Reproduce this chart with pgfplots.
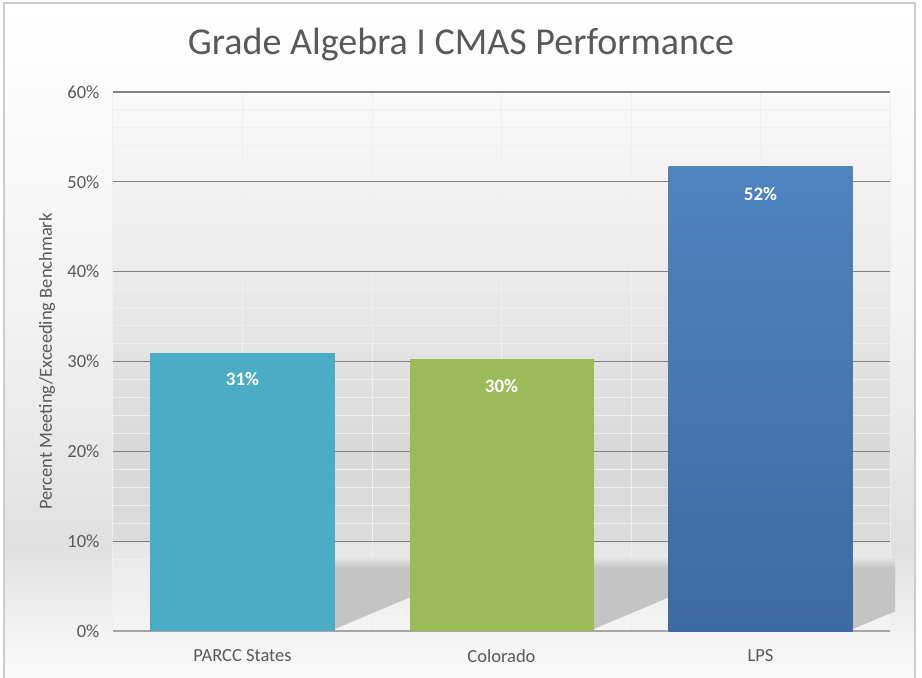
\documentclass[border=0pt]{standalone}
\usepackage{pgfplots}
\pgfplotsset{compat=1.18}
\usepackage{fontspec}
\setmainfont{Carlito}
\definecolor{txt}{HTML}{595959}
\definecolor{parcc}{HTML}{4BACC6}
\definecolor{colo}{HTML}{9BBB59}
\definecolor{lpstop}{HTML}{4F84C0}
\definecolor{lpsbot}{HTML}{3D6AA2}
\definecolor{gridminor}{HTML}{EFEFEF}
\definecolor{shadow}{HTML}{C4C4C4}
\pgfdeclareverticalshading{plotbg}{100bp}{%
  color(0bp)=(white!96!black); color(25bp)=(white!96!black);
  color(30bp)=(white!93!black); color(33.1bp)=(white!90!black);
  color(33.6bp)=(white!86!black); color(41.7bp)=(white!85!black);
  color(58bp)=(white!92!black); color(75bp)=(white!98!black);
  color(100bp)=(white!98!black)}
\pgfdeclareverticalshading{outerbg}{100bp}{%
  color(0bp)=(white!98!black); color(25bp)=(white!98!black);
  color(28bp)=(white!96!black); color(35bp)=(white!88!black);
  color(52bp)=(white!95!black); color(75bp)=(white);
  color(100bp)=(white)}
\begin{document}
\begin{tikzpicture}[x=1pt,y=1pt]
\path[use as bounding box] (0,0) rectangle (922,678);
\fill[shading=outerbg] (4,-5) rectangle (915,675);
\draw[black!20, line width=1.5pt] (4,-5) rectangle (915,675);
\node[txt, font=\fontsize{38}{44}\selectfont] at (461,633) {Grade Algebra I CMAS Performance};
\begin{axis}[at={(113pt,47pt)}, anchor=south west, scale only axis,
  width=777pt, height=539pt,
  xmin=-0.5, xmax=2.5, ymin=0, ymax=60,
  ybar, bar width=184pt, bar shift=0pt,
  axis background/.style={shading=plotbg},
  axis x line*=bottom, axis y line*=left,
  x axis line style={black!35, line width=1.2pt, -},
  y axis line style={draw=none},
  /pgf/number format/assume math mode=true,
  xtick={0,1,2}, xticklabels={PARCC States, Colorado, LPS},
  ytick={0,10,...,60}, yticklabel={\pgfmathprintnumber{\tick}\%},
  minor ytick={2,4,...,58}, minor xtick={-0.5,0.5,1.5,2.5,0,1,2},
  ymajorgrids, yminorgrids, xminorgrids,
  major grid style={black!50, line width=1.2pt},
  minor grid style={gridminor, line width=1pt},
  major tick length=0pt, minor tick length=0pt,
  tick style={draw=none},
  ticklabel style={txt, font=\fontsize{18.5}{22}\selectfont},
  yticklabel style={xshift=-10pt},
  xticklabel style={yshift=-15pt},
  ylabel={Percent Meeting/Exceeding Benchmark},
  ylabel style={txt, font=\fontsize{18.5}{22}\selectfont, at={(axis description cs:-0.085,0.5)}, anchor=center},
  nodes near coords={\pgfmathprintnumber[fixed,precision=0]{\pgfplotspointmeta}\%},
  every node near coord/.style={anchor=center, yshift=-27pt, white, font=\bfseries\fontsize{19}{22}\selectfont},
  clip=false,
]
% decorative shadow behind the bars (background effect)
\fill[shadow] (axis cs:0.3,7.0) -- (axis cs:0.7,7.0) -- (axis cs:0.7,4.4) -- (axis cs:0.355,0.2) -- (axis cs:0.3,0.2) -- cycle;
\fill[shadow] (axis cs:1.3,7.0) -- (axis cs:1.7,7.0) -- (axis cs:1.7,4.4) -- (axis cs:1.355,0.2) -- (axis cs:1.3,0.2) -- cycle;
\fill[shadow] (axis cs:2.3,7.0) -- (axis cs:2.52,7.0) -- (axis cs:2.52,2.2) -- (axis cs:2.355,0.2) -- (axis cs:2.3,0.2) -- cycle;
\fill[top color=white!90!black, bottom color=shadow] (axis cs:0.3,7.0) rectangle (axis cs:0.7,8.2);
\fill[top color=white!90!black, bottom color=shadow] (axis cs:1.3,7.0) rectangle (axis cs:1.7,8.2);
\fill[top color=white!90!black, bottom color=shadow] (axis cs:2.3,7.0) rectangle (axis cs:2.52,8.2);
\addplot[draw=none, fill=parcc] coordinates {(0,31.0)};
\addplot[draw=none, fill=colo] coordinates {(1,30.3)};
\addplot[draw=none, top color=lpstop, bottom color=lpsbot] coordinates {(2,51.7)};
\end{axis}
\end{tikzpicture}
\end{document}
